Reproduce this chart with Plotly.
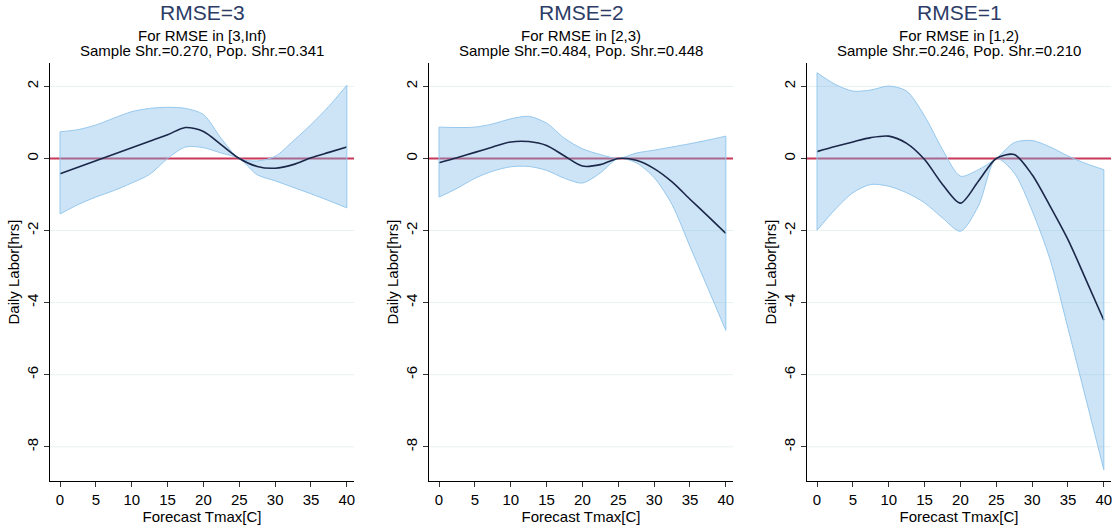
import plotly.graph_objects as go

# ---------------- data ----------------
tmax = [0, 2.5, 5, 7.5, 10, 12.5, 15, 17.5, 20, 22.5, 25, 27.5, 30, 32.5, 35, 37.5, 40]

titles = ["RMSE=3", "RMSE=2", "RMSE=1"]
sub1 = ["For RMSE in [3,Inf)", "For RMSE in [2,3)", "For RMSE in [1,2)"]
sub2 = ["Sample Shr.=0.270, Pop. Shr.=0.341",
        "Sample Shr.=0.484, Pop. Shr.=0.448",
        "Sample Shr.=0.246, Pop. Shr.=0.210"]

est_rmse3 = [-0.42, -0.24, -0.06, 0.12, 0.30, 0.48, 0.66, 0.86, 0.75, 0.38, 0.0, -0.22, -0.27, -0.17, 0.02, 0.17, 0.32]
hi_rmse3 = [0.74, 0.80, 0.93, 1.12, 1.30, 1.39, 1.42, 1.39, 1.22, 0.55, 0.0, -0.07, 0.06, 0.48, 0.94, 1.45, 2.03]
lo_rmse3 = [-1.54, -1.28, -1.07, -0.89, -0.68, -0.44, 0.0, 0.32, 0.30, 0.15, 0.0, -0.45, -0.62, -0.80, -0.98, -1.17, -1.37]

est_rmse2 = [-0.12, 0.02, 0.17, 0.32, 0.46, 0.47, 0.36, 0.07, -0.21, -0.17, 0.0, -0.05, -0.28, -0.65, -1.13, -1.60, -2.08]
hi_rmse2 = [0.87, 0.86, 0.87, 0.96, 1.10, 1.17, 0.98, 0.56, 0.27, 0.11, 0.0, 0.15, 0.23, 0.32, 0.41, 0.51, 0.62]
lo_rmse2 = [-1.07, -0.83, -0.55, -0.35, -0.23, -0.22, -0.33, -0.55, -0.68, -0.40, 0.0, -0.12, -0.53, -1.28, -2.44, -3.60, -4.77]

est_rmse1 = [0.19, 0.33, 0.46, 0.58, 0.62, 0.42, -0.03, -0.72, -1.24, -0.63, 0.0, 0.11, -0.45, -1.32, -2.25, -3.36, -4.49]
hi_rmse1 = [2.38, 2.06, 1.87, 1.90, 2.01, 1.87, 1.18, 0.25, -0.49, -0.31, 0.0, 0.44, 0.50, 0.32, 0.07, -0.14, -0.31]
lo_rmse1 = [-1.99, -1.42, -0.95, -0.72, -0.77, -0.95, -1.23, -1.65, -2.02, -1.32, 0.0, -0.40, -1.45, -2.80, -4.71, -6.67, -8.64]

x_ticks = [0, 5, 10, 15, 20, 25, 30, 35, 40]
y_ticks = [-8, -6, -4, -2, 0, 2]
y_ticklabels = ["-8", "-6", "-4", "-2", "0", "2"]

x_title = "Forecast Tmax[C]"
y_title = "Daily Labor[hrs]"

panels = [
    (est_rmse3, hi_rmse3, lo_rmse3),
    (est_rmse2, hi_rmse2, lo_rmse2),
    (est_rmse1, hi_rmse1, lo_rmse1),
]

# ---------------- styling ----------------
FONT = "Liberation Sans, Arial, Helvetica, sans-serif"
BAND_FILL = "rgba(120,185,230,0.38)"
BAND_LINE = "rgba(150,200,238,1)"
EST_COLOR = "#1b2748"
ZERO_COLOR = "#c8385a"
TITLE_COLOR = "#2c3c66"
GRID = "#e9f1f1"

W, H = 1112, 527
ML, MR, MT, MB = 50, 1, 63, 46
plot_w = W - ML - MR
plot_h = H - MT - MB
px_domains = [(50, 354), (429, 733), (807, 1111)]
domains = [((a - ML) / plot_w, (b - ML) / plot_w) for a, b in px_domains]

fig = go.Figure()
layout = dict(
    width=W, height=H,
    margin=dict(l=ML, r=MR, t=MT, b=MB),
    paper_bgcolor="white", plot_bgcolor="white",
    showlegend=False,
    font=dict(family=FONT, size=15, color="black"),
)

annotations = []
shapes = []
for i, (est, hi, lo) in enumerate(panels):
    n = "" if i == 0 else str(i + 1)
    xa, ya = "x" + n, "y" + n
    # gridlines (drawn as shapes so the zero line can sit above them)
    for yv in y_ticks:
        if yv == 0:
            continue
        shapes.append(dict(
            type="line", xref=xa + " domain", yref=ya, x0=0, x1=1, y0=yv, y1=yv,
            line=dict(color=GRID, width=1), layer="below",
        ))
    shapes.append(dict(
        type="line", xref=xa + " domain", yref=ya, x0=0, x1=1, y0=0, y1=0,
        line=dict(color=ZERO_COLOR, width=2), layer="below",
    ))
    # confidence band
    fig.add_trace(go.Scatter(
        x=tmax, y=lo, xaxis=xa, yaxis=ya, mode="lines",
        line=dict(color=BAND_LINE, width=1, shape="spline", smoothing=0.8),
        hoverinfo="skip",
    ))
    fig.add_trace(go.Scatter(
        x=tmax, y=hi, xaxis=xa, yaxis=ya, mode="lines", fill="tonexty",
        fillcolor=BAND_FILL,
        line=dict(color=BAND_LINE, width=1, shape="spline", smoothing=0.8),
        hoverinfo="skip",
    ))
    shapes.append(dict(
        type="line", xref=xa, yref=ya, x0=tmax[-1], x1=tmax[-1], y0=lo[-1], y1=hi[-1],
        line=dict(color=BAND_LINE, width=1), layer="above",
    ))
    shapes.append(dict(
        type="line", xref=xa, yref=ya, x0=tmax[0], x1=tmax[0], y0=lo[0], y1=hi[0],
        line=dict(color=BAND_LINE, width=1), layer="above",
    ))
    fig.add_trace(go.Scatter(
        x=tmax, y=est, xaxis=xa, yaxis=ya, mode="lines",
        line=dict(color=EST_COLOR, width=1.6, shape="spline", smoothing=0.8),
    ))
    layout["xaxis" + n] = dict(
        domain=list(domains[i]), anchor=ya, range=[-1.4, 41],
        tickvals=x_ticks, ticks="outside", ticklen=5, tickcolor="#333",
        showline=True, linecolor="black", linewidth=1, showgrid=False, zeroline=False,
        title=dict(text=x_title, standoff=2, font=dict(size=15)),
        tickfont=dict(size=15), ticklabeloverflow="allow", automargin=False,
    )
    layout["yaxis" + n] = dict(
        domain=[0, 1], anchor=xa, range=[-8.95, 2.65],
        tickvals=y_ticks, ticktext=y_ticklabels, ticks="outside", ticklen=5, tickcolor="#333",
        tickangle=-90, tickfont=dict(size=15),
        showline=True, linecolor="black", linewidth=1,
        showgrid=False, zeroline=False,
        title=dict(text=y_title, standoff=0, font=dict(size=15)),
    )
    cx = (domains[i][0] + domains[i][1]) / 2
    annotations.append(dict(
        text=titles[i], x=cx, y=1 + (MT - 13) / plot_h, xref="paper", yref="paper",
        showarrow=False, xanchor="center", yanchor="middle",
        font=dict(size=21, color=TITLE_COLOR, family=FONT),
    ))
    annotations.append(dict(
        text=sub1[i], x=cx, y=1 + (MT - 36) / plot_h, xref="paper", yref="paper",
        showarrow=False, xanchor="center", yanchor="middle",
        font=dict(size=15, color="black", family=FONT),
    ))
    annotations.append(dict(
        text=sub2[i], x=cx, y=1 + (MT - 50) / plot_h, xref="paper", yref="paper",
        showarrow=False, xanchor="center", yanchor="middle",
        font=dict(size=15, color="black", family=FONT),
    ))

layout["annotations"] = annotations
layout["shapes"] = shapes
fig.update_layout(**layout)

fig.write_html("out.html")
